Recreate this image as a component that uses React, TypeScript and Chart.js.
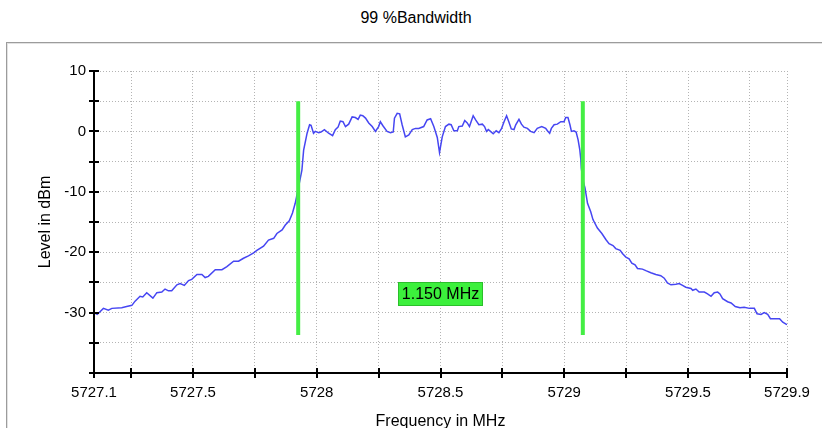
import React, { useEffect, useRef } from 'react';
import { Chart, registerables } from 'chart.js';

Chart.register(...registerables);

const TITLE = '99 %Bandwidth';
const X_TITLE = 'Frequency in MHz';
const Y_TITLE = 'Level in dBm';

const FREQ = [
  5727.100, 5727.113, 5727.138, 5727.158, 5727.172, 5727.212, 5727.232, 5727.253, 5727.266, 5727.286,
  5727.297, 5727.313, 5727.338, 5727.354, 5727.374, 5727.387, 5727.401, 5727.414, 5727.435, 5727.448,
  5727.465, 5727.482, 5727.495, 5727.516, 5727.536, 5727.549, 5727.562, 5727.590, 5727.617, 5727.637,
  5727.664, 5727.684, 5727.704, 5727.724, 5727.745, 5727.758, 5727.785, 5727.805, 5727.826, 5727.839,
  5727.860, 5727.873, 5727.889, 5727.902, 5727.913, 5727.925, 5727.940, 5727.947, 5727.961, 5727.971,
  5727.977, 5727.987, 5727.994, 5728.008, 5728.017, 5728.031, 5728.048, 5728.064, 5728.075, 5728.086,
  5728.095, 5728.106, 5728.116, 5728.129, 5728.143, 5728.156, 5728.167, 5728.176, 5728.186, 5728.197,
  5728.210, 5728.224, 5728.237, 5728.250, 5728.257, 5728.268, 5728.284, 5728.298, 5728.309, 5728.314,
  5728.325, 5728.335, 5728.345, 5728.358, 5728.372, 5728.386, 5728.399, 5728.412, 5728.432, 5728.446,
  5728.460, 5728.473, 5728.487, 5728.496, 5728.507, 5728.520, 5728.534, 5728.543, 5728.554, 5728.568,
  5728.574, 5728.588, 5728.598, 5728.608, 5728.617, 5728.632, 5728.642, 5728.655, 5728.669, 5728.678,
  5728.686, 5728.693, 5728.702, 5728.713, 5728.725, 5728.736, 5728.747, 5728.756, 5728.767, 5728.776,
  5728.786, 5728.797, 5728.804, 5728.817, 5728.827, 5728.837, 5728.851, 5728.864, 5728.878, 5728.891,
  5728.909, 5728.925, 5728.932, 5728.941, 5728.948, 5728.959, 5728.972, 5728.986, 5728.999, 5729.006,
  5729.015, 5729.023, 5729.029, 5729.039, 5729.048, 5729.056, 5729.063, 5729.067, 5729.069, 5729.075,
  5729.084, 5729.094, 5729.107, 5729.116, 5729.134, 5729.152, 5729.168, 5729.181, 5729.197, 5729.208,
  5729.226, 5729.235, 5729.249, 5729.262, 5729.273, 5729.286, 5729.296, 5729.316, 5729.332, 5729.350,
  5729.370, 5729.390, 5729.404, 5729.417, 5729.431, 5729.451, 5729.464, 5729.478, 5729.491, 5729.512,
  5729.519, 5729.532, 5729.545, 5729.566, 5729.579, 5729.593, 5729.606, 5729.620, 5729.629, 5729.640,
  5729.660, 5729.674, 5729.691, 5729.710, 5729.727, 5729.748, 5729.768, 5729.779, 5729.795, 5729.808,
  5729.822, 5729.833, 5729.870, 5729.883, 5729.896, 5729.900,
];

const LEVEL = [
  -30.0, -30.3, -29.3, -29.6, -29.3, -29.2, -29.0, -28.8, -28.1, -27.3,
  -27.4, -26.7, -27.6, -26.7, -26.6, -26.1, -26.4, -26.4, -25.4, -25.2,
  -25.5, -24.7, -24.5, -23.7, -23.7, -24.2, -24.0, -22.9, -22.9, -22.4,
  -21.5, -21.5, -21.0, -20.6, -20.1, -19.7, -19.0, -18.0, -17.7, -16.9,
  -16.3, -15.5, -14.8, -13.5, -11.9, -9.5, -6.4, -3.1, -0.3, 1.1,
  1.0, -0.3, 0.0, -0.2, -0.1, 0.3, -0.3, -0.7, 0.3, 0.7,
  1.7, 1.6, 0.8, 1.2, 2.4, 2.3, 2.0, 2.7, 2.6, 2.2,
  1.4, 0.8, 0.0, 0.8, 1.6, 0.9, 0.0, -0.2, -0.1, 2.2,
  3.0, 2.9, 1.1, -0.9, -0.6, 0.3, 0.5, 0.5, 0.8, 1.9,
  2.1, 0.8, -1.0, -3.5, -0.9, 0.8, 1.2, 1.1, 0.1, 0.1,
  0.8, 0.9, 1.8, 1.4, 0.8, 2.6, 1.9, 1.1, 1.2, 0.8,
  0.0, 0.3, 0.0, -0.4, 0.1, -0.2, 0.5, 1.5, 2.6, 1.6,
  0.4, 0.3, 1.1, 2.0, 1.2, 0.7, 0.5, 0.0, -0.2, 0.5,
  0.8, 0.5, 0.1, -0.3, 0.5, 1.1, 1.2, 1.6, 1.6, 2.3,
  2.3, 1.1, 0.0, 0.1, -0.1, -1.4, -3.1, -4.7, -6.1, -8.0,
  -9.4, -11.9, -13.3, -14.6, -16.0, -16.9, -17.9, -18.6, -18.9, -19.4,
  -19.7, -20.2, -20.8, -21.1, -21.8, -22.1, -22.7, -22.8, -23.1, -23.4,
  -23.7, -23.9, -24.3, -25.1, -25.4, -25.3, -25.2, -25.5, -25.8, -26.0,
  -26.3, -26.1, -26.6, -26.6, -26.9, -27.3, -26.7, -26.6, -26.9, -27.7,
  -28.2, -28.4, -29.0, -29.2, -29.1, -29.3, -29.3, -30.2, -30.3, -30.0,
  -30.3, -31.0, -31.0, -31.6, -31.9, -32.0,
];

// Occupied-bandwidth markers
const OBW_FREQS = [5727.925, 5729.075];
const OBW_LEVELS = [5, -33.7];
const OBW_LABEL = '1.150 MHz';
const OBW_LABEL_LEVEL = -26.9;

const X_MIN = 5727.1;
const X_MAX = 5729.9;
const X_TICKS = [5727.1, 5727.25, 5727.5, 5727.75, 5728, 5728.25, 5728.5, 5728.75, 5729, 5729.25, 5729.5, 5729.75, 5729.9];
const X_TICK_LABELS = ['5727.1', '', '5727.5', '', '5728', '', '5728.5', '', '5729', '', '5729.5', '', '5729.9'];

const Y_MIN = -40;
const Y_MAX = 10;
const Y_TICKS = [-40, -35, -30, -25, -20, -15, -10, -5, 0, 5, 10];
const Y_TICK_LABELS = ['', '', '-30', '', '-20', '', '-10', '', '0', '', '10'];

const FONT = '"Liberation Sans", Arial, sans-serif';

const overlayPlugin = {
  id: 'overlay',
  afterDatasetsDraw(chart: any) {
    const { ctx, chartArea, scales } = chart;
    const x = scales.x;
    const y = scales.y;
    ctx.save();
    // axis lines
    ctx.strokeStyle = '#000';
    ctx.lineWidth = 2;
    ctx.beginPath();
    ctx.moveTo(chartArea.left, chartArea.top);
    ctx.lineTo(chartArea.left, chartArea.bottom);
    ctx.lineTo(chartArea.right, chartArea.bottom);
    // crossing tick marks
    x.ticks.forEach((t: any) => {
      const px = Math.round(x.getPixelForValue(t.value));
      ctx.moveTo(px, chartArea.bottom - 5);
      ctx.lineTo(px, chartArea.bottom + 5);
    });
    y.ticks.forEach((t: any) => {
      const py = Math.round(y.getPixelForValue(t.value));
      ctx.moveTo(chartArea.left - 5, py);
      ctx.lineTo(chartArea.left + 5, py);
    });
    ctx.stroke();

    // bandwidth label box
    const mid = (OBW_FREQS[0] + OBW_FREQS[1]) / 2;
    const cx = x.getPixelForValue(mid);
    const cy = y.getPixelForValue(OBW_LABEL_LEVEL);
    ctx.font = '16px ' + FONT;
    const w = Math.round(ctx.measureText(OBW_LABEL).width + 8);
    const h = 24;
    const bx = Math.round(cx - w / 2);
    const by = Math.round(cy - h / 2);
    ctx.fillStyle = '#3cf03c';
    ctx.fillRect(bx, by, w, h);
    ctx.strokeStyle = '#2bbf2b';
    ctx.lineWidth = 1;
    ctx.strokeRect(bx + 0.5, by + 0.5, w - 1, h - 1);
    ctx.fillStyle = '#000';
    ctx.textAlign = 'center';
    ctx.textBaseline = 'middle';
    ctx.fillText(OBW_LABEL, cx, cy + 1);
    ctx.restore();
  },
};

export default function App() {
  const canvasRef = useRef<HTMLCanvasElement | null>(null);

  useEffect(() => {
    const canvas = canvasRef.current;
    if (!canvas) return;
    const trace = FREQ.map((f, i) => ({ x: f, y: LEVEL[i] }));
    const markerData = (f: number) => OBW_LEVELS.map((l) => ({ x: f, y: l }));

    const chart = new Chart(canvas, {
      type: 'line',
      data: {
        datasets: [
          {
            label: 'left',
            data: markerData(OBW_FREQS[0]),
            borderColor: '#44ee44',
            borderWidth: 4,
            pointRadius: 0,
            order: 1,
          },
          {
            label: 'right',
            data: markerData(OBW_FREQS[1]),
            borderColor: '#44ee44',
            borderWidth: 4,
            pointRadius: 0,
            order: 1,
          },
          {
            label: 'trace',
            data: trace,
            borderColor: '#4646f2',
            borderWidth: 1.5,
            pointRadius: 0,
            tension: 0,
            order: 2,
          },
        ],
      },
      options: {
        animation: false,
        responsive: false,
        devicePixelRatio: 1,
        layout: { padding: { top: 71, right: 35, left: 0, bottom: 0 } },
        plugins: {
          legend: { display: false },
          tooltip: { enabled: false },
          title: { display: false },
        },
        scales: {
          x: {
            type: 'linear',
            min: X_MIN,
            max: X_MAX,
            afterBuildTicks: (scale: any) => {
              scale.ticks = X_TICKS.map((v) => ({ value: v }));
            },
            afterFit: (scale: any) => {
              scale.height = 55;
            },
            grid: { color: '#b4b4b4', lineWidth: 1, drawTicks: false },
            border: { display: false, dash: [1, 2] },
            ticks: {
              autoSkip: false,
              maxRotation: 0,
              padding: 11,
              color: '#000',
              font: { family: FONT, size: 15 },
              callback: (_v: any, i: number) => X_TICK_LABELS[i],
            },
            title: {
              display: true,
              text: X_TITLE,
              color: '#000',
              font: { family: FONT, size: 16, lineHeight: 1 },
              padding: { top: 0, bottom: -2 },
            },
          },
          y: {
            type: 'linear',
            min: Y_MIN,
            max: Y_MAX,
            afterBuildTicks: (scale: any) => {
              scale.ticks = Y_TICKS.map((v) => ({ value: v }));
            },
            afterFit: (scale: any) => {
              scale.width = 94;
            },
            grid: { color: '#b4b4b4', lineWidth: 1, drawTicks: false },
            border: { display: false, dash: [1, 2] },
            ticks: {
              autoSkip: false,
              padding: 8,
              color: '#000',
              font: { family: FONT, size: 15 },
              callback: (_v: any, i: number) => Y_TICK_LABELS[i],
            },
            title: {
              display: true,
              text: Y_TITLE,
              color: '#000',
              font: { family: FONT, size: 16, lineHeight: 1 },
              padding: { top: 38, bottom: 0 },
            },
          },
        },
      },
      plugins: [overlayPlugin],
    } as any);

    return () => chart.destroy();
  }, []);

  return (
    <div
      style={{
        position: 'fixed',
        left: 0,
        top: 0,
        width: 822,
        height: 428,
        background: '#fff',
        overflow: 'hidden',
        fontFamily: FONT,
      }}
    >
      <div
        style={{
          position: 'absolute',
          top: 9,
          left: 0,
          width: 832,
          textAlign: 'center',
          fontSize: 16,
          lineHeight: '18px',
          color: '#000',
        }}
      >
        {TITLE}
      </div>
      <div
        style={{
          position: 'absolute',
          left: 6,
          top: 42,
          right: -4,
          bottom: -4,
          borderTop: '1px solid #9c9c9c',
          borderLeft: '1px solid #9c9c9c',
        }}
      >
        <div
          style={{
            position: 'absolute',
            left: 0,
            top: 0,
            right: 0,
            bottom: 0,
            borderTop: '1px solid #e2e2e2',
            borderLeft: '1px solid #e2e2e2',
          }}
        />
      </div>
      <canvas
        ref={canvasRef}
        width={822}
        height={428}
        style={{ position: 'absolute', left: 0, top: 0, width: 822, height: 428 }}
      />
    </div>
  );
}
